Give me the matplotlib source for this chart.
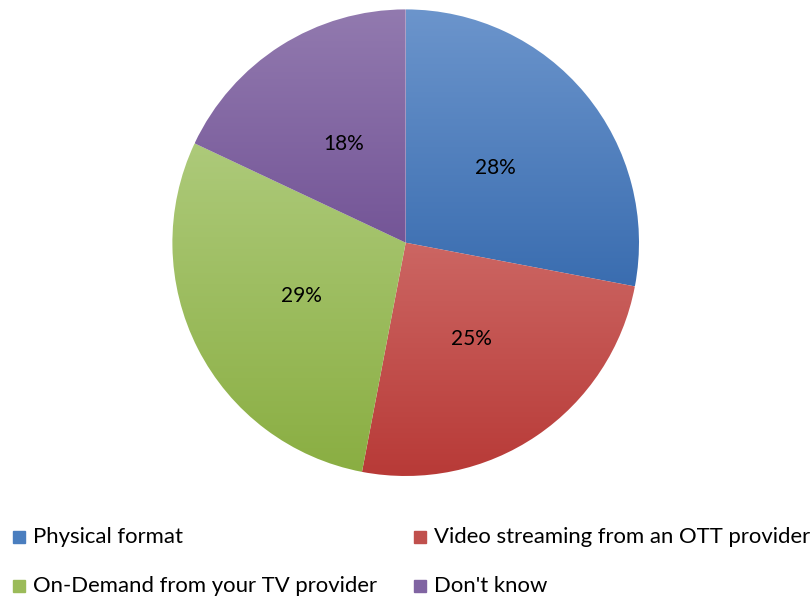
import matplotlib.pyplot as plt
import numpy as np
from matplotlib.colors import LinearSegmentedColormap
from matplotlib.patches import Rectangle

labels = ['Physical format', 'Video streaming from an OTT provider',
          'On-Demand from your TV provider', "Don't know"]
shares = [28, 25, 29, 18]
light = ['#6C95CC', '#CC6663', '#ADCA7A', '#927AAF']
dark = ['#3A6DB0', '#B83A37', '#8AAE42', '#745597']
swatch = ['#4A7EBF', '#C0504D', '#9BBB59', '#8064A2']

plt.rcParams['font.family'] = ['Lato', 'DejaVu Sans']

fig = plt.figure(figsize=(8.12, 6.02), dpi=100)
ax = fig.add_axes([0, 0, 1, 1])
ax.set_xlim(0, 812)
ax.set_ylim(0, 602)
ax.axis('off')

cx, cy, r = 405.7, 602 - 242.7, 233.3
wedges, texts, autotexts = ax.pie(shares, center=(cx, cy), radius=r, startangle=90,
                                  counterclock=False, autopct='%1.0f%%', pctdistance=0.5,
                                  textprops={'fontsize': 15, 'color': 'black'},
                                  wedgeprops={'linewidth': 0})
ax.set_aspect('auto')

# vertical gradient fill for every slice, light on top, dark at the bottom
for w, c1, c2 in zip(wedges, light, dark):
    th = np.radians(np.linspace(w.theta1, w.theta2, 100))
    ys = np.concatenate([cy + r * np.sin(th), [cy]])
    xs = np.concatenate([cx + r * np.cos(th), [cx]])
    cmap = LinearSegmentedColormap.from_list('g', [c2, c1])
    grad = np.linspace(0, 1, 256).reshape(-1, 1)
    im = ax.imshow(grad, cmap=cmap, origin='lower', aspect='auto',
                   extent=(xs.min(), xs.max(), ys.min(), ys.max()), zorder=1)
    im.set_clip_path(w)
    w.set_facecolor('none')
for t in autotexts:
    t.set_zorder(5)
ax.set_xlim(0, 812)
ax.set_ylim(0, 602)

# legend in two columns under the pie
pos = [(13, 537), (414, 537), (13, 586), (414, 586)]
for (x, y), name, col in zip(pos, labels, swatch):
    ax.add_patch(Rectangle((x, 602 - y - 6), 12, 12, color=col, zorder=3))
    ax.text(x + 20, 602 - y, name, fontsize=15.9, va='center', ha='left')

fig.savefig('out.png', dpi=100)
